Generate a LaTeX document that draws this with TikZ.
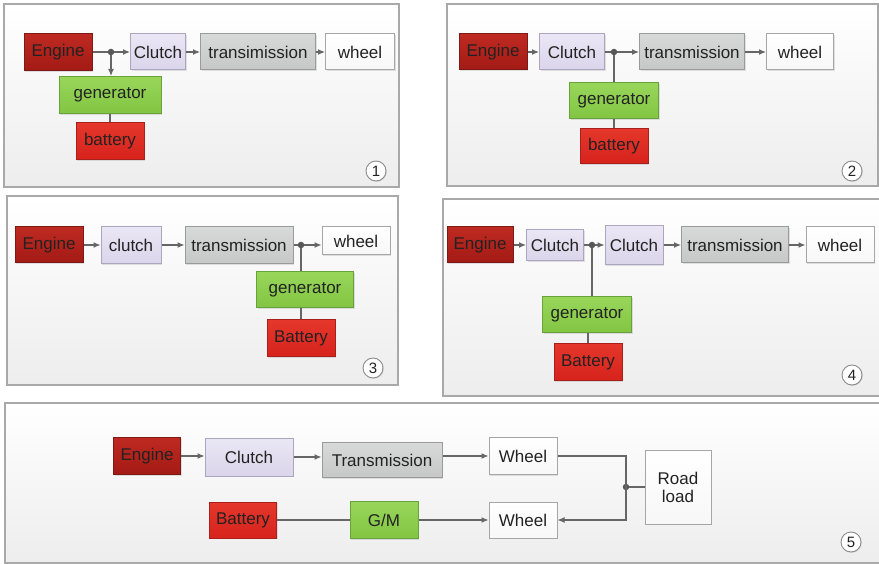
\documentclass[tikz,border=0pt]{standalone}
\usepackage{fontspec}
\setmainfont{Liberation Sans}
\usetikzlibrary{arrows.meta,shadows}

\definecolor{txt}{HTML}{222222}
\definecolor{wire}{HTML}{666666}
\definecolor{frame}{HTML}{A9A9A9}
\definecolor{engT}{HTML}{BE2A22}\definecolor{engB}{HTML}{A31A15}\definecolor{engD}{HTML}{7E1A16}
\definecolor{batT}{HTML}{E5372C}\definecolor{batB}{HTML}{D6231C}\definecolor{batD}{HTML}{A82019}
\definecolor{genT}{HTML}{98D65A}\definecolor{genB}{HTML}{82C542}\definecolor{genD}{HTML}{69A23A}
\definecolor{cluT}{HTML}{EAE7F5}\definecolor{cluB}{HTML}{DAD5EA}\definecolor{cluD}{HTML}{ABA6BD}
\definecolor{trnT}{HTML}{D8D9D9}\definecolor{trnB}{HTML}{C6C7C7}\definecolor{trnD}{HTML}{999A9A}
\definecolor{whlD}{HTML}{A6A6A6}

\begin{document}
\begin{tikzpicture}[x=1pt,y=-1pt,
  font=\fontsize{17}{19}\selectfont, text=txt,
  panel/.style={draw=frame, line width=1.3pt, top color=white, bottom color=black!7},
  blk/.style={rectangle, line width=1pt, inner sep=0pt, align=center,
    drop shadow={opacity=0.22, shadow xshift=1pt, shadow yshift=-1.2pt}},
  engine/.style={blk, draw=engD, top color=engT, bottom color=engB},
  batt/.style={blk, draw=batD, top color=batT, bottom color=batB},
  genr/.style={blk, draw=genD, top color=genT, bottom color=genB},
  clut/.style={blk, draw=cluD, top color=cluT, bottom color=cluB},
  trns/.style={blk, draw=trnD, top color=trnT, bottom color=trnB},
  whl/.style={blk, draw=whlD, top color=white, bottom color=black!3},
  sz/.style 2 args={minimum width=#1pt, minimum height=#2pt},
  jn/.style={circle, fill=wire!85!black, inner sep=0pt, minimum size=6.5pt},
  wr/.style={draw=wire, line width=1.2pt},
  ar/.style={wr, -{Latex[length=7pt,width=6pt]}},
  tag/.style={circle, draw=black!45, line width=0.9pt, fill=white, inner sep=0pt,
    minimum size=20pt, font=\fontsize{15}{15}\selectfont,
    drop shadow={opacity=0.25, shadow xshift=0.8pt, shadow yshift=-0.8pt}}
]
\useasboundingbox (0,0) rectangle (879,564);

% panel frames
\draw[panel] (4,4) rectangle (399,187);
\draw[panel] (447,4) rectangle (878,186);
\draw[panel] (7,196) rectangle (398,385);
\draw[panel] (443,199) rectangle (881,396);
\draw[panel] (5,403) rectangle (881,563);

% ---- layout 1
\node[engine, sz={68}{37}] (e1) at (58,52) {Engine};
\node[clut, sz={55}{36}] (c1) at (158,52) {Clutch};
\node[trns, sz={115}{36}] (t1) at (258,52) {transimission};
\node[whl, sz={69}{36}] (w1) at (360,52) {wheel};
\node[genr, sz={102}{37}] (g1) at (110,95) {generator};
\node[batt, sz={68}{37}] (b1) at (110,141) {battery};
\node[jn] (j1) at (111,52) {};
\draw[wr] (e1.east) -- (j1);
\draw[ar] (j1) -- (c1.west);
\draw[ar] (c1) -- (t1);
\draw[ar] (t1) -- (w1);
\draw[ar] (j1) -- (j1 |- g1.north);
\draw[wr] (g1) -- (b1);
\node[tag] (n1) at (376,171) {1};

% ---- layout 2
\node[engine, sz={68}{36}] (e2) at (493,52) {Engine};
\node[clut, sz={65}{36}] (c2) at (572,52) {Clutch};
\node[trns, sz={105}{36}] (t2) at (692,52) {transmission};
\node[whl, sz={67}{36}] (w2) at (800,52) {wheel};
\node[genr, sz={89}{36}] (g2) at (614,101) {generator};
\node[batt, sz={68}{35}] (b2) at (614,146) {battery};
\node[jn] (j2) at (614,52) {};
\draw[ar] (e2) -- (c2);
\draw[wr] (c2.east) -- (j2);
\draw[ar] (j2) -- (t2.west);
\draw[ar] (t2) -- (w2);
\draw[wr] (j2) -- (g2.north);
\draw[wr] (g2) -- (b2);
\node[tag] (n2) at (852,171) {2};

% ---- layout 3
\node[engine, sz={68}{36}] (e3) at (49,245) {Engine};
\node[clut, sz={60}{37}] (c3) at (131,245) {clutch};
\node[trns, sz={108}{37}] (t3) at (239,245) {transmission};
\node[whl, sz={68}{28}] (w3) at (356,241) {wheel};
\node[genr, sz={97}{36}] (g3) at (305,290) {generator};
\node[batt, sz={68}{37}] (b3) at (301,338) {Battery};
\node[jn] (j3) at (301,245) {};
\draw[ar] (e3) -- (c3);
\draw[ar] (c3) -- (t3);
\draw[wr] (t3.east) -- (j3);
\draw[ar] (j3) -- (j3 -| w3.west);
\draw[wr] (j3) -- (j3 |- g3.north);
\draw[wr] (b3.north) -- (b3.north |- g3.south);
\node[tag] (n3) at (373,368) {3};

% ---- layout 4
\node[engine, sz={66}{36}] (e4) at (480,245) {Engine};
\node[clut, sz={57}{31}] (c4a) at (555,245) {Clutch};
\node[clut, sz={58}{39}] (c4b) at (634,245) {Clutch};
\node[trns, sz={107}{36}] (t4) at (735,245) {transmission};
\node[whl, sz={68}{36}] (w4) at (840,245) {wheel};
\node[genr, sz={89}{36}] (g4) at (587,315) {generator};
\node[batt, sz={68}{37}] (b4) at (588,362) {Battery};
\node[jn] (j4) at (592,245) {};
\draw[ar] (e4) -- (c4a);
\draw[wr] (c4a.east) -- (j4);
\draw[ar] (j4) -- (c4b.west);
\draw[ar] (c4b) -- (t4);
\draw[ar] (t4) -- (w4);
\draw[wr] (j4) -- (j4 |- g4.north);
\draw[wr] (b4.north) -- (b4.north |- g4.south);
\node[tag] (n4) at (852,375) {4};

% ---- layout 5
\node[engine, sz={67}{37}] (e5) at (147,456) {Engine};
\node[clut, sz={88}{38}] (c5) at (249,457) {Clutch};
\node[trns, sz={120}{35}] (t5) at (382,460) {Transmission};
\node[whl, sz={68}{37}] (w5a) at (523,456) {Wheel};
\node[whl, sz={66}{74}] (r5) at (678,487) {Road\\[-1pt]load};
\node[batt, sz={67}{36}] (b5) at (243,520) {Battery};
\node[genr, sz={68}{37}] (m5) at (384,520) {G/M};
\node[whl, sz={68}{36}] (w5b) at (523,520) {Wheel};
\node[jn] (j5) at (626,487) {};
\draw[ar] (e5.east) -- (e5.east -| c5.west);
\draw[ar] (c5.east) -- (c5.east -| t5.west);
\draw[ar] (w5a.west -| t5.east) -- (w5a.west);
\draw[ar] (w5a.east) -- (w5a.east -| j5) -- (w5b.east -| j5) -- (w5b.east);
\draw[wr] (j5) -- (r5.west);
\draw[wr] (b5) -- (m5);
\draw[ar] (m5) -- (w5b);
\node[tag] (n5) at (851,542) {5};
\end{tikzpicture}
\end{document}
